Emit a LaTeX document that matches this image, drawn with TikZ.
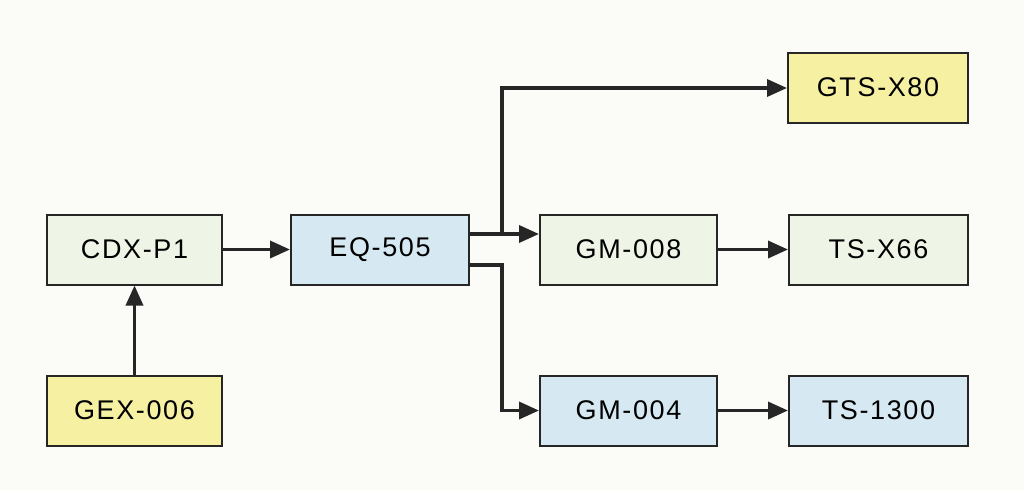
\documentclass[tikz,border=0pt]{standalone}
\usepackage{fontspec}
\setmainfont{Liberation Sans}[LetterSpace=6]
\usetikzlibrary{arrows.meta}
\definecolor{yel}{HTML}{F6F0A2}
\definecolor{grn}{HTML}{EEF5E6}
\definecolor{blu}{HTML}{D6E9F2}
\definecolor{bg}{HTML}{FBFBF8}
\begin{document}
\begin{tikzpicture}[x=1pt,y=-1pt,
  box/.style={draw=black!85,line width=2pt,minimum width=175pt,minimum height=70pt,font=\fontsize{27}{30}\selectfont,inner sep=0pt},
  con/.style={line width=3.5pt,draw=black!85},
  arr/.style={con,-{Triangle[length=20pt,width=17pt]}}]
\fill[bg] (0,0) rectangle (1024,490);
\useasboundingbox (0,0) rectangle (1024,490);
\node[box,fill=grn] (cdx) at (134.5,249.5) {CDX-P1};
\node[box,fill=blu,minimum width=178pt] (eq) at (380,249.5) {EQ-505};
\node[box,fill=grn,minimum width=177pt] (gm8) at (628.5,249.5) {GM-008};
\node[box,fill=grn,minimum width=179pt] (ts66) at (878.5,249.5) {TS-X66};
\node[box,fill=yel,minimum width=180pt] (gts) at (878,87.5) {GTS-X80};
\node[box,fill=yel] (gex) at (134.5,410.5) {GEX-006};
\node[box,fill=blu,minimum width=177pt] (gm4) at (628.5,410.5) {GM-004};
\node[box,fill=blu,minimum width=179pt] (ts13) at (878.5,410.5) {TS-1300};
\coordinate (j) at (502,234);
\coordinate (t) at (502,88);
\coordinate (k) at (502,265);
\coordinate (b) at (502,410.5);
\draw[arr] (cdx) -- (eq);
\draw[arr] (gex) -- (cdx);
\draw[arr] (eq.east |- j) -- (gm8.west |- j);
\draw[arr] (j) -- (t) -- (gts.west |- t);
\draw[arr] (eq.east |- k) -- (k) -- (b) -- (gm4.west);
\draw[arr] (gm8) -- (ts66);
\draw[arr] (gm4) -- (ts13);
\end{tikzpicture}
\end{document}
